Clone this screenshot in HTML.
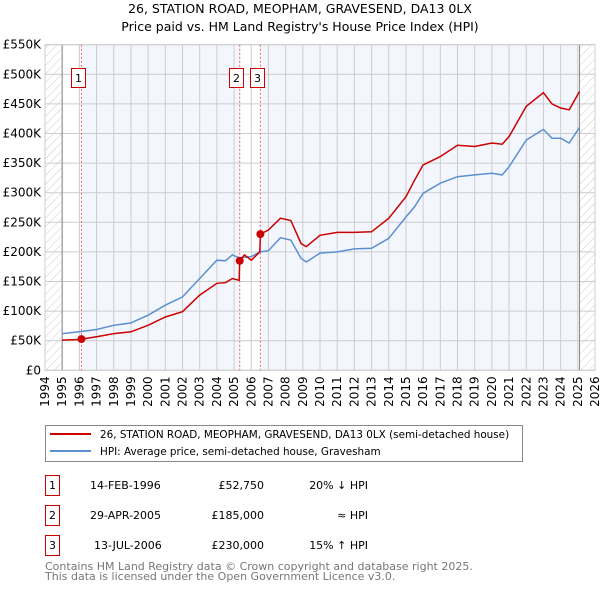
<!DOCTYPE html>
<html><head><meta charset="utf-8"><style>
body{margin:0;background:#fff;font-family:"DejaVu Sans","Liberation Sans",sans-serif;}
svg text{font-family:"DejaVu Sans","Liberation Sans",sans-serif;}
</style></head><body>
<svg id="c" width="600" height="590" xmlns="http://www.w3.org/2000/svg">
<defs><pattern id="hatch" width="6" height="6" patternUnits="userSpaceOnUse" patternTransform="rotate(45)"><line x1="0" y1="0" x2="0" y2="6" stroke="#ccc" stroke-width="1"/></pattern></defs>
<text x="300" y="13" text-anchor="middle" font-size="12.5">26, STATION ROAD, MEOPHAM, GRAVESEND, DA13 0LX</text>
<text x="300" y="31" text-anchor="middle" font-size="12.5">Price paid vs. HM Land Registry's House Price Index (HPI)</text>
<g id="plot"></g>
<g>
<rect x="45.5" y="425.5" width="477" height="36" fill="#fff" stroke="#888"/>
<line x1="50" y1="434" x2="91" y2="434" stroke="#cc0000" stroke-width="2"/>
<text x="100" y="438" font-size="10.4">26, STATION ROAD, MEOPHAM, GRAVESEND, DA13 0LX (semi-detached house)</text>
<line x1="50" y1="451" x2="91" y2="451" stroke="#5b8fd0" stroke-width="2"/>
<text x="100" y="455" font-size="10.4">HPI: Average price, semi-detached house, Gravesham</text>
</g>
<g font-size="11">
<rect x="45.5" y="475.5" width="14" height="20" fill="#fff" stroke="#cc0000"/><text x="52.5" y="489" text-anchor="middle">1</text>
<text x="90" y="489">14-FEB-1996</text><text x="264" y="489" text-anchor="end">£52,750</text><text x="368" y="489" text-anchor="end">20% ↓ HPI</text>
<rect x="45.5" y="505.5" width="14" height="20" fill="#fff" stroke="#cc0000"/><text x="52.5" y="519" text-anchor="middle">2</text>
<text x="90" y="519">29-APR-2005</text><text x="264" y="519" text-anchor="end">£185,000</text><text x="368" y="519" text-anchor="end">≈ HPI</text>
<rect x="45.5" y="535.5" width="14" height="20" fill="#fff" stroke="#cc0000"/><text x="52.5" y="549" text-anchor="middle">3</text>
<text x="94" y="549">13-JUL-2006</text><text x="264" y="549" text-anchor="end">£230,000</text><text x="368" y="549" text-anchor="end">15% ↑ HPI</text>
</g>
<text x="45" y="570" font-size="11" fill="#777">Contains HM Land Registry data © Crown copyright and database right 2025.</text>
<text x="45" y="580" font-size="11" fill="#777">This data is licensed under the Open Government Licence v3.0.</text>
</svg>
<script>
const hpiYears=[1995,1996,1997,1998,1999,2000,2001,2002,2003,2004,2004.5,2004.9,2005.3,2006,2006.5,2007,2007.7,2008.3,2008.9,2009.2,2010,2011,2012,2013,2014,2015,2015.5,2016,2017,2018,2019,2020,2020.6,2021,2022,2023,2023.5,2024,2024.5,2025.1];
const hpiValues=[62,65,69,76,80,93,110,124,155,186,185,195,190,192,200,202,224,220,189,183,198,200,205,206,223,259,276,299,316,327,330,333,330,344,389,407,392,392,384,410];
const redYears=[1995,1996,1996.12,1997,1998,1999,2000,2001,2002,2003,2004,2004.5,2004.9,2005.3,2005.33,2005.6,2006,2006.5,2006.53,2007,2007.7,2008.3,2008.9,2009.2,2010,2011,2012,2013,2014,2015,2015.5,2016,2017,2018,2019,2020,2020.6,2021,2022,2023,2023.5,2024,2024.5,2025.1];
const redValues=[51,52,52.75,56.7,62,65,76,90,99,127,147,148,155,152,185,195,186,200,230,237,257,253,214,209,228,233,233,234,257,293,321,347,361,380,378,384,382,395,446,469,450,443,440,471];
const saleYears=[1996.12,2005.33,2006.53];
const saleValues=[52.75,185,230];
const saleLabels=["1","2","3"];
const yTicks=[0,50,100,150,200,250,300,350,400,450,500,550];
const xTicks=[1994,1995,1996,1997,1998,1999,2000,2001,2002,2003,2004,2005,2006,2007,2008,2009,2010,2011,2012,2013,2014,2015,2016,2017,2018,2019,2020,2021,2022,2023,2024,2025,2026];
const X0=45,X1=595,Y0=370.3,Y1=44.7;
const xs=y=>X0+(y-1994)/32*(X1-X0);
const ys=v=>Y0-v/550*(Y0-Y1);
const NS="http://www.w3.org/2000/svg";
const g=document.getElementById('plot');
function mk(t,a){const e=document.createElementNS(NS,t);for(const k in a)e.setAttribute(k,a[k]);g.appendChild(e);return e;}
let e;
e=mk('rect',{x:X0,y:Y1,width:X1-X0,height:Y0-Y1,fill:'#fff'});

[[saleYears[0],saleYears[1]],[saleYears[2],2025.1]].forEach(([a,b])=>{e=mk('rect',{x:xs(a),y:Y1,width:xs(b)-xs(a),height:Y0-Y1,fill:'#eef3fc',opacity:0.7});
});
[[1994,1995],[2025.1,2026]].forEach(([a,b])=>{e=mk('rect',{x:xs(a),y:Y1,width:xs(b)-xs(a),height:Y0-Y1,fill:'url(#hatch)'});
});
yTicks.forEach(v=>{e=mk('line',{x1:X0,x2:X1,y1:ys(v),y2:ys(v),stroke:'#ccc'});

e=mk('text',{x:41,y:ys(v)+4,'text-anchor':'end','font-size':12});e.textContent=v===0?'£0':'£'+v+'K';
});
xTicks.forEach(y=>{e=mk('line',{x1:xs(y),x2:xs(y),y1:Y1,y2:Y0,stroke:'#ccc'});

e=mk('text',{x:0,y:0,'text-anchor':'end','font-size':12,transform:`translate(${xs(y)+4},${Y0+6}) rotate(-90)`});e.textContent=y;
});
[1995,2025.1].forEach(y=>{e=mk('line',{x1:xs(y),x2:xs(y),y1:Y1,y2:Y0,stroke:'#888'});
});
e=mk('rect',{x:X0,y:Y1,width:X1-X0,height:Y0-Y1,fill:'none',stroke:'#ccc'});

saleYears.forEach((y,i)=>{e=mk('line',{x1:xs(y),x2:xs(y),y1:Y1,y2:Y0,stroke:'#e66','stroke-dasharray':'2,2'});
});
const path=(xa,va)=>xa.map((y,i)=>(i?'L':'M')+xs(y).toFixed(1)+','+ys(va[i]).toFixed(1)).join('');
e=mk('path',{d:path(hpiYears,hpiValues),fill:'none',stroke:'#5b8fd0','stroke-width':1.5});

e=mk('path',{d:path(redYears,redValues),fill:'none',stroke:'#cc0000','stroke-width':1.5});

saleYears.forEach((y,i)=>{e=mk('circle',{cx:xs(y),cy:ys(saleValues[i]),r:4,fill:'#cc0000'});

e=mk('rect',{x:(i===0?71.5:i===1?229.5:250.5),y:68.5,width:14,height:19,fill:'#fff',stroke:'#cc0000'});

e=mk('text',{x:(i===0?78.5:i===1?236.5:257.5),y:82,'text-anchor':'middle','font-size':11});e.textContent=saleLabels[i];
});
</script>
</body></html>
